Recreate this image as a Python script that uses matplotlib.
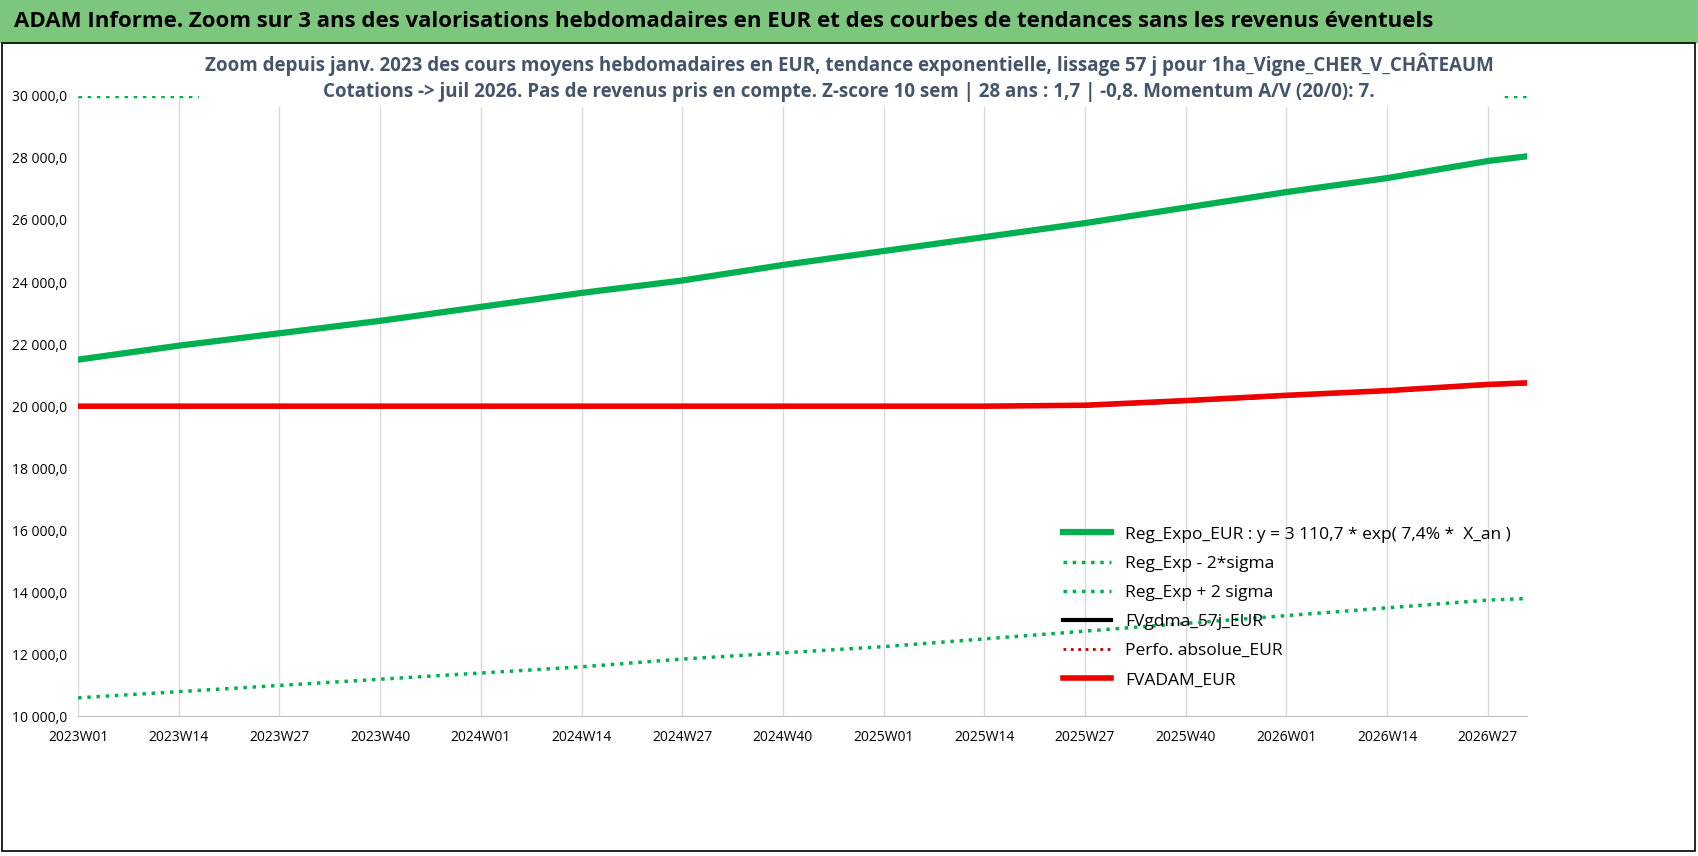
import numpy as np
import matplotlib.pyplot as plt
from matplotlib.patches import Rectangle

# week index (0 = 2023W01), values read at the tick positions
weeks = [0, 13, 26, 39, 52, 65, 78, 91, 104, 117, 130, 143, 156, 169, 182, 187]
reg_expo = [21500, 21950, 22350, 22750, 23200, 23650, 24050, 24550, 25000,
            25450, 25900, 26400, 26900, 27350, 27900, 28050]
reg_low = [10600, 10800, 11000, 11200, 11400, 11600, 11850, 12050, 12250,
           12500, 12750, 13000, 13250, 13500, 13750, 13800]
reg_high = [30000] * 16
fvgdma = [20000, 20000, 20000, 20000, 20000, 20000, 20000, 20000, 20000,
          20000, 20020, 20170, 20340, 20500, 20690, 20740]
perfo = fvgdma
fvadam = [20000, 20000, 20000, 20000, 20000, 20000, 20000, 20000, 20000,
          20000, 20030, 20180, 20350, 20500, 20700, 20750]
tick_pos = [0, 13, 26, 39, 52, 65, 78, 91, 104, 117, 130, 143, 156, 169, 182]
tick_lab = ['2023W01', '2023W14', '2023W27', '2023W40', '2024W01', '2024W14',
            '2024W27', '2024W40', '2025W01', '2025W14', '2025W27', '2025W40',
            '2026W01', '2026W14', '2026W27']

fig = plt.figure(figsize=(16.98, 8.56), dpi=100)
plt.rcParams['font.family'] = ['Open Sans', 'DejaVu Sans']

# banner
fig.patches.append(Rectangle((0, 0.951), 1, 0.049, transform=fig.transFigure,
                             color='#7dc67d', zorder=0))
fig.text(0.008, 0.975, "ADAM Informe. Zoom sur 3 ans des valorisations hebdomadaires en EUR et des courbes de tendances sans les revenus éventuels",
         fontsize=16, fontweight='bold', va='center', ha='left')
fig.patches.append(Rectangle((0.001, 0.006), 0.997, 0.944, transform=fig.transFigure,
                             fill=False, ec='black', lw=1.2))

ax = fig.add_axes([0.046, 0.163, 0.853, 0.725])
green = '#00b050'
ax.plot(weeks, reg_high, ls=':', color=green, lw=2.5, label='Reg_Exp + 2 sigma', zorder=2)
ax.plot(weeks, reg_expo, color=green, lw=4.5, label='Reg_Expo_EUR : y = 3 110,7 * exp( 7,4% *  X_an )')
ax.plot(weeks, reg_low, ls=':', color=green, lw=2.5, label='Reg_Exp - 2*sigma')
ax.plot(weeks, fvgdma, color='black', lw=3, label='FVgdma_57j_EUR')
ax.plot(weeks, perfo, ls=':', color='#c00000', lw=2, label='Perfo. absolue_EUR')
ax.plot(weeks, fvadam, color='#ee0000', lw=4, label='FVADAM_EUR')

ax.set_xlim(0, 187)
ax.set_ylim(10000, 30000)
ax.set_yticks(range(10000, 30001, 2000))
ax.set_yticklabels([f"{v:,}".replace(',', ' ') + ',0' for v in range(10000, 30001, 2000)],
                   fontsize=10)
ax.set_xticks(tick_pos)
ax.set_xticklabels(tick_lab, fontsize=10)
ax.grid(axis='x', color='#d9d9d9', lw=1)
for s in ['top', 'right', 'left']:
    ax.spines[s].set_visible(False)
ax.spines['bottom'].set_color('#bfbfbf')
ax.tick_params(length=0)
ax.tick_params(axis='x', pad=10)
ax.tick_params(axis='y', pad=8)

h, l = ax.get_legend_handles_labels()
order = [1, 2, 0, 3, 4, 5]
ax.legend([h[i] for i in order], [l[i] for i in order], loc='lower right',
          bbox_to_anchor=(1.0, 0.02), frameon=False, fontsize=12.5, handlelength=2.8,
          labelspacing=0.75)

fig.text(0.5, 0.91, "Zoom depuis janv. 2023 des cours moyens hebdomadaires en EUR, tendance exponentielle, lissage 57 j pour 1ha_Vigne_CHER_V_CHÂTEAUM\nCotations -> juil 2026. Pas de revenus pris en compte. Z-score 10 sem | 28 ans : 1,7 | -0,8. Momentum A/V (20/0): 7.",
         ha='center', va='center', fontsize=13.5, fontweight='bold', color='#44546a',
         linespacing=1.4, bbox=dict(facecolor='white', edgecolor='none', pad=4))

fig.savefig('out.png', dpi=100)
